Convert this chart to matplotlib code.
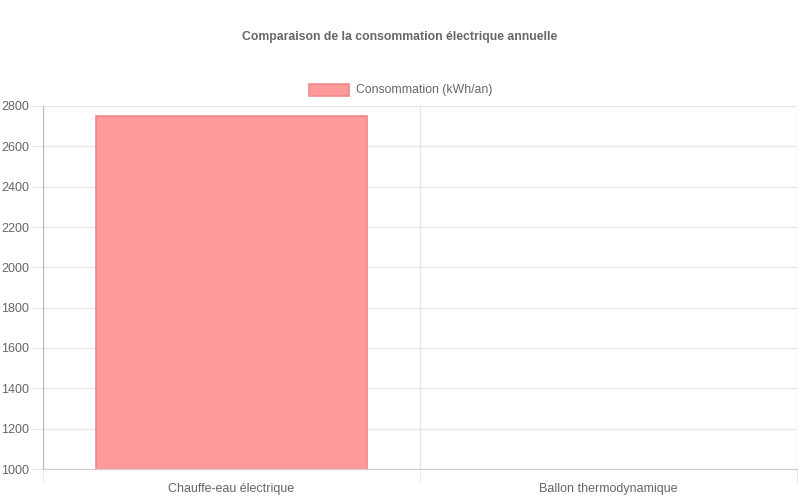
import matplotlib
matplotlib.use("Agg")
import matplotlib.pyplot as plt
from matplotlib.patches import Rectangle

categories = ["Chauffe-eau électrique", "Ballon thermodynamique"]
values = [2750, 900]
series_label = "Consommation (kWh/an)"
title = "Comparaison de la consommation électrique annuelle"
yticks = [1000, 1200, 1400, 1600, 1800, 2000, 2200, 2400, 2600, 2800]

plt.rcParams['font.family'] = ['Liberation Sans', 'DejaVu Sans']
W, H = 800, 500
fig = plt.figure(figsize=(8, 5), dpi=100)
ax = fig.add_axes([43 / W, 1 - 469 / H, (797 - 43) / W, (469 - 106) / H])

x = [0, 1]
ax.bar(x, values, width=0.72, bottom=0, color="#ff9a9a", edgecolor="#f08a8a",
       linewidth=1.2, zorder=3)
ax.set_xlim(-0.5, 1.5)
ax.set_ylim(1000, 2800)
ax.set_yticks(yticks)
ax.set_xticks(x)
ax.set_xticklabels(categories)
ax.set_xticks([-0.5, 0.5, 1.5], minor=True)

grid_c = "#e6e6e6"
ax.yaxis.grid(True, color=grid_c, linewidth=1, zorder=0)
ax.xaxis.grid(True, which="minor", color=grid_c, linewidth=1, zorder=0)
for s in ["top", "right"]:
    ax.spines[s].set_visible(False)
ax.spines["left"].set_color("#bbbbbb")
ax.spines["bottom"].set_color("#cccccc")
ax.tick_params(axis="y", which="major", length=9, color=grid_c, labelsize=9,
               labelcolor="#666666", pad=1)
ax.tick_params(axis="x", which="major", length=0, labelsize=9,
               labelcolor="#666666", pad=10)
ax.tick_params(axis="x", which="minor", length=10, color=grid_c)

fig.text(400 / W, 1 - 37 / H, title, ha="center", va="center",
         fontsize=8.8, fontweight="bold", color="#666666")

# legend
fig.patches.append(Rectangle((309 / W, 1 - 96 / H), 40 / W, 12 / H,
                             transform=fig.transFigure, facecolor="#ff9a9a",
                             edgecolor="#f08a8a", linewidth=1.2))
fig.text(356 / W, 1 - 90 / H, series_label, ha="left", va="center",
         fontsize=8.8, color="#666666")

fig.savefig("out.png", dpi=100)
